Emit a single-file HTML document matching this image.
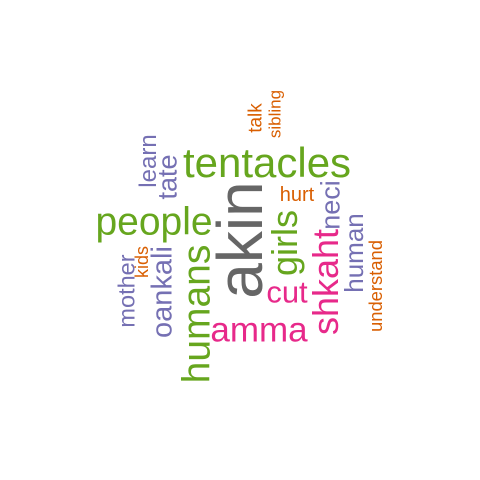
<!DOCTYPE html>
<html><head><meta charset="utf-8"><style>
html,body{margin:0;padding:0;background:#fff;}
#cloud{position:relative;width:480px;height:480px;overflow:hidden;font-family:"Liberation Sans",sans-serif;}
.w{position:absolute;white-space:nowrap;line-height:1;}
</style></head><body>
<div id="cloud"></div>
<script>
const words = ["akin","tentacles","people","humans","amma","girls","shkaht","cut","neci","human","understand","hurt","talk","sibling","learn","tate","mother","kids","oankali"];
const sizes = [64,42,39,39,35,36,36,31,27,26,18.4,20,19,17,24,27,23.5,18,29];
const colors = ["#666666","#66a61e","#66a61e","#66a61e","#e7298a","#66a61e","#e7298a","#e7298a","#7570b3","#7570b3","#d95f02","#d95f02","#d95f02","#d95f02","#7570b3","#7570b3","#7570b3","#d95f02","#7570b3"];
const rotated = [1,0,0,1,0,1,1,0,1,1,1,0,1,1,1,1,1,1,1];
const cx = [240,267,154,197,259,285,326,287,331,354,376,297,256,275,149,168,127,142,163];
const cy = [240,163,222,314,330,243,282,292,205,253,286,195,118,114,161,177,291,262,292];
const cloud = document.getElementById('cloud');
words.forEach((t,i)=>{
  const el = document.createElement('div');
  el.className='w';
  el.textContent=t;
  
  
  el.style.fontSize=sizes[i]+'px';
  el.style.color=colors[i];
  el.style.left=cx[i]+'px';
  el.style.top=cy[i]+'px';
  el.style.transform='translate(-50%,-50%)'+(rotated[i]?' rotate(-90deg)':'');
  cloud.appendChild(el);
});
</script>
</body></html>
